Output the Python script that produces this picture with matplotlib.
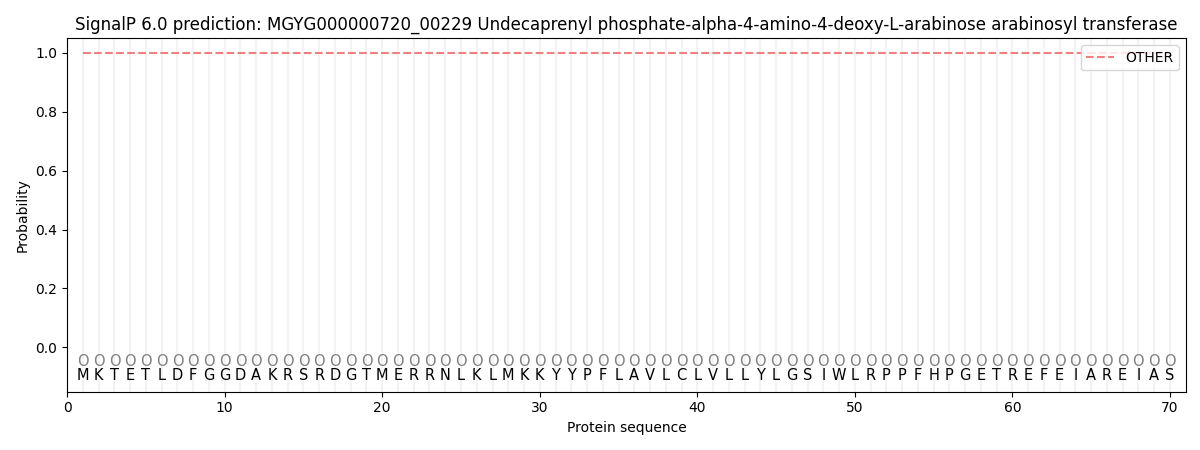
import matplotlib
matplotlib.use('Agg')
import matplotlib.pyplot as plt
import numpy as np

sequence = list("MKTETLDFGGDAKRSRDGTMERRNLKLMKKYYPFLAVLCLVLLYLGSIWLRPPFHPGETREFEIAREIAS")
positions = np.arange(1, len(sequence) + 1)
region_labels = ["O"] * len(sequence)
prob_other = [1.0] * len(sequence)

fig = plt.figure(figsize=(12, 4.5))
ax = fig.add_subplot(111)

for p in positions:
    ax.axvline(p, color='#f3f3f3', lw=1.5, zorder=0)

ax.plot(positions, prob_other, ls='--', color='#f08080', lw=1.5, label='OTHER')

for p, r, aa in zip(positions, region_labels, sequence):
    ax.text(p, -0.047, r, ha='center', va='center', fontsize=10.5, color='grey')
    ax.text(p, -0.094, aa, ha='center', va='center', fontsize=10.5, color='black')

ax.set_xlim(0, 71)
ax.set_ylim(-0.15, 1.05)
ax.set_xlabel('Protein sequence')
ax.set_ylabel('Probability')
ax.set_title('SignalP 6.0 prediction: MGYG000000720_00229 Undecaprenyl phosphate-alpha-4-amino-4-deoxy-L-arabinose arabinosyl transferase')
ax.legend(loc='upper right')

fig.subplots_adjust(left=0.056, right=0.988, top=0.915, bottom=0.13)
fig.savefig('out.png', dpi=100)
